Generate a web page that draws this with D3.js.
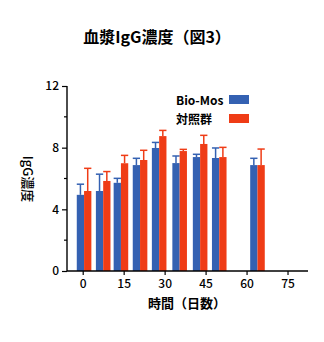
<!DOCTYPE html>
<html><head><meta charset="utf-8">
<script src="https://cdn.jsdelivr.net/npm/d3@7"></script>
<style>
body{margin:0;background:#fff;}
text{font-family:"Noto Sans CJK JP","Noto Sans",sans-serif;}
</style></head>
<body><svg id="c" width="324" height="342"></svg>
<script>
const days = [0.5, 7.5, 14, 21, 28, 35.5, 43, 50, 64];
const bioMos = [4.94, 5.19, 5.72, 6.87, 7.98, 7.0, 7.39, 7.33, 6.87];
const bioMosErr = [0.69, 1.09, 0.29, 0.44, 0.36, 0.46, 0.18, 0.65, 0.44];
const control = [5.19, 5.84, 6.99, 7.2, 8.75, 7.78, 8.24, 7.39, 6.87];
const controlErr = [1.47, 0.61, 0.51, 0.63, 0.37, 0.11, 0.56, 0.63, 1.04];
const xTicks = [0, 15, 30, 45, 60, 75];
const yTicks = [0, 4, 8, 12];
const yMinor = [2, 6, 10];
const seriesNames = ["Bio-Mos", "対照群"];
const colors = ["#3461b2", "#ef3c16"];

const svg = d3.select("#c");
const x = d3.scaleLinear().domain([-5.75, 82.5]).range([67, 308]);
const y = d3.scaleLinear().domain([0, 12]).range([271, 86]);
const bw = x(2.67) - x(0);

// title
svg.append("text").attr("x", 157).attr("y", 43).attr("text-anchor", "middle")
  .attr("font-size", 16).attr("font-weight", "bold").text("血漿IgG濃度（図3）");

// bars
const series = [
  {vals: bioMos, err: bioMosErr, off: -1},
  {vals: control, err: controlErr, off: 0}
];
series.forEach((s, si) => {
  const g = svg.append("g");
  days.forEach((d, i) => {
    const x0 = x(d) + s.off * bw;
    g.append("rect").attr("x", x0).attr("width", bw)
      .attr("y", y(s.vals[i])).attr("height", y(0) - y(s.vals[i]))
      .attr("fill", colors[si]);
    const cx = x0 + bw / 2;
    g.append("line").attr("x1", cx).attr("x2", cx)
      .attr("y1", y(s.vals[i])).attr("y2", y(s.vals[i] + s.err[i]))
      .attr("stroke", colors[si]).attr("stroke-width", 1.5);
    g.append("line").attr("x1", x0).attr("x2", x0 + bw)
      .attr("y1", y(s.vals[i] + s.err[i])).attr("y2", y(s.vals[i] + s.err[i]))
      .attr("stroke", colors[si]).attr("stroke-width", 1.5);
  });
});

// y axis
const yAxis = svg.append("g").attr("transform", "translate(67,0)")
  .call(d3.axisLeft(y).tickValues(yTicks).tickSize(5).tickPadding(3).tickFormat(d3.format("d")));
yAxis.append("g").selectAll("line").data(yMinor).join("line")
  .attr("x1", -3).attr("x2", 0).attr("y1", d => y(d)).attr("y2", d => y(d))
  .attr("stroke", "#000").attr("stroke-width", 1.2);
yAxis.select(".domain").attr("d", `M0,${y(12)}V${y(0)}`);

// x axis
const xAxis = svg.append("g").attr("transform", "translate(0,271)")
  .call(d3.axisBottom(x).tickValues(xTicks).tickSize(4).tickPadding(4).tickFormat(d3.format("d")));
xAxis.select(".domain").attr("d", `M67,0H308`);

[yAxis, xAxis].forEach(a => {
  a.selectAll(".domain").attr("stroke", "#000").attr("stroke-width", 1.4);
  a.selectAll(".tick line").attr("stroke", "#000").attr("stroke-width", 1.2);
  a.selectAll(".tick text").attr("font-size", 12).attr("font-weight", 500).attr("fill", "#000")
    .style("font-family", "'Noto Sans CJK JP', sans-serif");
});

// axis labels
svg.append("text").attr("x", 187).attr("y", 308).attr("text-anchor", "middle")
  .attr("font-size", 13).attr("font-weight", "bold").text("時間（日数）");
svg.append("text").attr("transform", "translate(23,179) rotate(90)").attr("text-anchor", "middle")
  .attr("font-size", 13).attr("font-weight", 500).text("IgG濃度");

// legend
const leg = svg.append("g");
seriesNames.forEach((n, i) => {
  const yy = 100 + i * 19;
  leg.append("text").attr("x", 176).attr("y", yy + 4.5).attr("font-size", 12)
    .attr("font-weight", "bold").text(n);
  leg.append("rect").attr("x", 229).attr("y", yy - 5).attr("width", 20).attr("height", 9)
    .attr("fill", colors[i]);
});
</script></body></html>
